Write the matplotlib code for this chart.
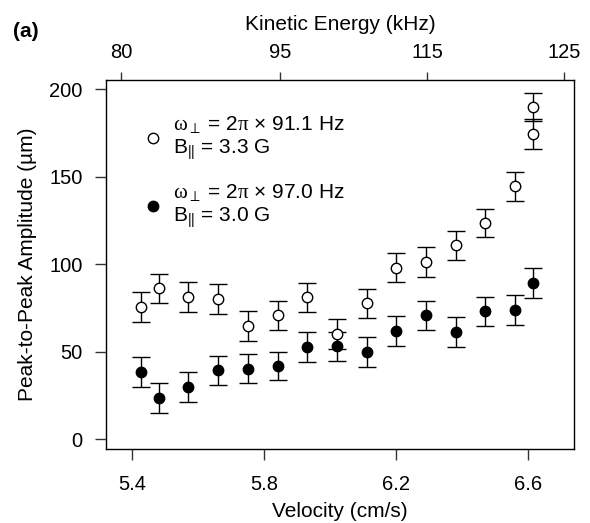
import matplotlib
matplotlib.use("Agg")
import matplotlib.pyplot as plt

plt.rcParams['font.family'] = ['Liberation Sans', 'DejaVu Sans']
plt.rcParams['mathtext.fontset'] = 'custom'
plt.rcParams['mathtext.rm'] = 'Liberation Sans'
plt.rcParams['mathtext.it'] = 'Liberation Serif'

# velocities (cm/s)
vel_open = [5.425, 5.48, 5.57, 5.661, 5.752, 5.841, 5.929, 6.02, 6.11,
            6.2, 6.29, 6.38, 6.47, 6.56, 6.613, 6.613]
amp_open = [75.8, 86.3, 81.5, 80.2, 64.7, 70.9, 81.1, 60.0, 77.7,
            98.1, 101.3, 110.8, 123.6, 144.6, 174.5, 189.9]
err_open = [8.5, 8.4, 8.5, 8.5, 8.4, 8.3, 8.4, 8.6, 8.3,
            8.2, 8.6, 8.4, 8.2, 8.3, 8.8, 8.0]

vel_fill = [5.425, 5.48, 5.57, 5.661, 5.752, 5.841, 5.929, 6.02, 6.11,
            6.2, 6.29, 6.38, 6.47, 6.56, 6.613]
amp_fill = [38.3, 23.6, 29.9, 39.4, 40.4, 41.9, 52.7, 53.1, 49.7,
            61.7, 70.9, 61.5, 73.1, 73.9, 89.5]
err_fill = [8.6, 8.4, 8.4, 8.4, 8.3, 8.2, 8.6, 8.4, 8.6,
            8.6, 8.3, 8.6, 8.4, 8.4, 8.6]

# top axis: kinetic energy tick positions on the velocity scale
ke_vel = [5.367, 5.848, 6.294, 6.709]
ke_labels = ['80', '95', '115', '125']

vel_ticks = [5.4, 5.8, 6.2, 6.6]
amp_ticks = [0, 50, 100, 150, 200]

lab1 = '$\\omega_\\perp$ = 2$\\pi$ \u00d7 91.1 Hz\nB$_{||}$ = 3.3 G'
lab2 = '$\\omega_\\perp$ = 2$\\pi$ \u00d7 97.0 Hz\nB$_{||}$ = 3.0 G'

fs = 15
tfs = 14.5

fig = plt.figure(figsize=(5.9, 5.23), dpi=100)
ax = fig.add_axes([0.1797, 0.1409, 0.7932, 0.7061])

eb1 = ax.errorbar(vel_open, amp_open, yerr=err_open, fmt='o', mfc='white', mec='black',
                  mew=1.0, ms=7.5, ecolor='black', elinewidth=1.0, capsize=6.5, capthick=1.0)
eb2 = ax.errorbar(vel_fill, amp_fill, yerr=err_fill, fmt='o', mfc='black', mec='black',
                  ms=7.5, ecolor='black', elinewidth=1.0, capsize=6.5, capthick=1.0)

ax.set_xlim(5.3203, 6.7385)
ax.set_ylim(-5.7, 205.3)
ax.set_xticks(vel_ticks)
ax.set_xticklabels([str(v) for v in vel_ticks])
ax.set_yticks(amp_ticks)
ax.tick_params(direction='out', length=7.7, width=1, labelsize=tfs, color='#333333')
ax.tick_params(axis='x', pad=10.5)
ax.tick_params(axis='y', pad=9)
for s in ax.spines.values():
    s.set_linewidth(1.0)
    s.set_color('#333333')

ax.set_xlabel('Velocity (cm/s)', fontsize=fs, labelpad=6)
ax.set_ylabel('Peak-to-Peak Amplitude (\u00b5m)', fontsize=fs, labelpad=9)

top = ax.twiny()
top.set_xlim(ax.get_xlim())
top.set_xticks(ke_vel)
top.set_xticklabels(ke_labels)
top.tick_params(direction='out', length=6, width=1, labelsize=tfs, pad=7, color='#333333')
top.set_xlabel('Kinetic Energy (kHz)', fontsize=fs, labelpad=9)

ax.legend([eb1[0], eb2[0]], [lab1, lab2], loc='upper left', bbox_to_anchor=(0.047, 0.948),
          frameon=False, fontsize=fs, handletextpad=0.45, labelspacing=0.95,
          handlelength=1.0, borderaxespad=0.3)

fig.text(0.022, 0.9407, '(a)', fontsize=fs, fontweight='bold', va='center')

fig.savefig('out.png', dpi=100)
